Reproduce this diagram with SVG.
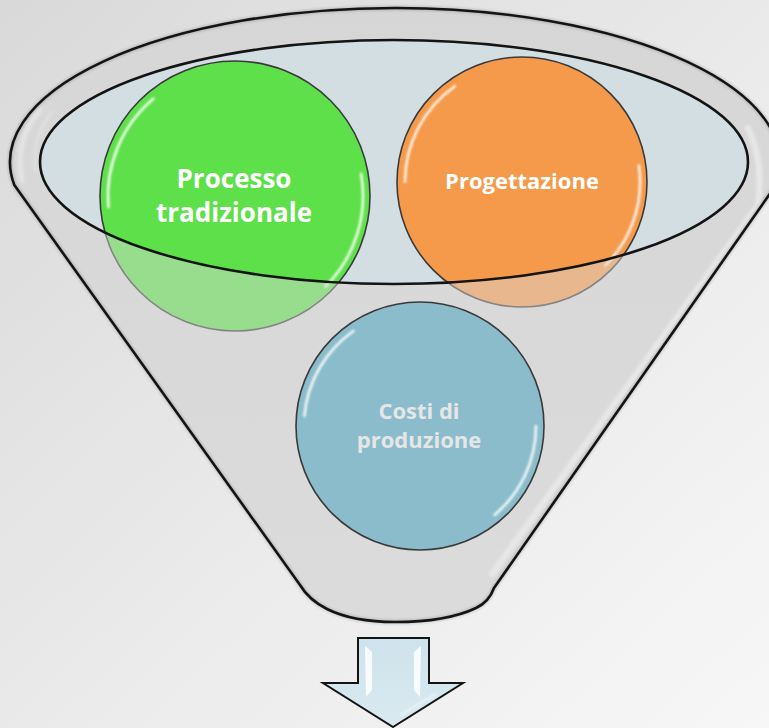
<svg xmlns="http://www.w3.org/2000/svg" width="769" height="728" viewBox="0 0 769 728">
  <defs>
    <linearGradient id="bg" x1="0" y1="0" x2="1" y2="1">
      <stop offset="0" stop-color="#d9d9d9"/>
      <stop offset="0.55" stop-color="#ebebeb"/>
      <stop offset="1" stop-color="#f7f7f7"/>
    </linearGradient>
    <linearGradient id="body" x1="0" y1="0" x2="0" y2="1">
      <stop offset="0" stop-color="#d4d4d4"/>
      <stop offset="1" stop-color="#dedede"/>
    </linearGradient>
    <linearGradient id="arrowFill" x1="0" y1="0" x2="0" y2="1">
      <stop offset="0" stop-color="#cfe3ec"/>
      <stop offset="1" stop-color="#d9e9f0"/>
    </linearGradient>
    <filter id="soft" x="-10%" y="-10%" width="120%" height="120%">
      <feGaussianBlur stdDeviation="0.8"/>
    </filter>
    <filter id="glow" x="-20%" y="-20%" width="140%" height="140%">
      <feGaussianBlur stdDeviation="1.6"/>
    </filter>
  </defs>
  <style>
    .edge { fill: none; stroke: #141414; stroke-width: 2.6; stroke-linejoin: round; }
    .edge-shadow { fill: none; stroke: #000000; stroke-width: 4; opacity: 0.18; }
    .ball { stroke: #3a3a3a; stroke-width: 1.6; }
    .shine { fill: none; stroke: #ffffff; stroke-width: 2.6; stroke-linecap: round; opacity: 0.9; }
    .label { font-family: "Open Sans", "Liberation Sans", sans-serif; font-weight: 700; text-anchor: middle; }
  </style>

  <!-- background -->
  <rect width="769" height="728" fill="url(#bg)"/>

  <!-- funnel body and opening -->
  <g id="funnel">
    <path id="funnel-shape" d="M 14.3,185 A 385 154 0 1 1 775.3,186 L 494,588 Q 489,602 476,608 C 455,618 425,622 395,622 C 368,622 345,618 327,609 Q 309,600 300,585 Z" fill="url(#body)"/>
    <!-- glossy rim highlights -->
    <path d="M 40,110 Q 14,140 22,180" fill="none" stroke="#f4f4f4" stroke-width="5" stroke-linecap="round" opacity="0.8" filter="url(#glow)"/>
    <path d="M 52,112 Q 30,140 36,172" fill="none" stroke="#ededed" stroke-width="3" stroke-linecap="round" opacity="0.7" filter="url(#glow)"/>
    <path d="M 748,128 Q 764,160 758,205 L 492,574" fill="none" stroke="#f8f8f8" stroke-width="6" stroke-linecap="round" opacity="0.9" filter="url(#glow)"/>
    <ellipse id="opening" cx="394" cy="162" rx="354" ry="122" fill="#d3dee3"/>
  </g>

  <!-- upper nodes, resting in the opening -->
  <g id="node-processo">
    <circle cx="235" cy="196" r="135" fill="#5ee04a" class="ball"/>
    <path class="shine" d="M 108.5,207.1 A 127 127 0 0 1 153.4,98.7" filter="url(#soft)"/>
    <path class="shine" d="M 361.1,173.8 A 128 128 0 0 1 325.5,286.5" filter="url(#soft)"/>
    <text class="label" x="234" y="188" font-size="26" fill="#ffffff">Processo</text>
    <text class="label" x="234" y="222" font-size="26" fill="#ffffff">tradizionale</text>
  </g>
  <g id="node-progettazione">
    <circle cx="522" cy="182" r="125" fill="#f5994a" class="ball"/>
    <path class="shine" d="M 405,182 A 117 117 0 0 1 454.9,86.2" filter="url(#soft)"/>
    <path class="shine" d="M 638.9,165.6 A 118 118 0 0 1 605.4,265.4" filter="url(#soft)"/>
    <text class="label" x="522" y="189" font-size="22" fill="#ffffff">Progettazione</text>
  </g>

  <!-- front wall of the funnel, seen through -->
  <path d="M 14.3,185 A 385 154 0 1 1 775.3,186 L 494,588 Q 489,602 476,608 C 455,618 425,622 395,622 C 368,622 345,618 327,609 Q 309,600 300,585 Z M 40,162 A 354 122 0 1 0 748,162 A 354 122 0 1 0 40,162 Z" fill="#d8d8d8" fill-rule="evenodd" opacity="0.47"/>

  <!-- outlines -->
  <g id="funnel-outline">
    <path class="edge-shadow" filter="url(#glow)" d="M 14.3,185 A 385 154 0 1 1 775.3,186 L 494,588 Q 489,602 476,608 C 455,618 425,622 395,622 C 368,622 345,618 327,609 Q 309,600 300,585 Z"/>
    <path class="edge" d="M 14.3,185 A 385 154 0 1 1 775.3,186 L 494,588 Q 489,602 476,608 C 455,618 425,622 395,622 C 368,622 345,618 327,609 Q 309,600 300,585 Z"/>
    <ellipse class="edge" cx="394" cy="162" rx="354" ry="122"/>
  </g>

  <!-- lower node -->
  <g id="node-costi">
    <circle cx="420" cy="426" r="124" fill="#8abccb" class="ball"/>
    <path class="shine" d="M 304.4,415.9 A 116 116 0 0 1 353.5,331" filter="url(#soft)" opacity="0.7"/>
    <path class="shine" d="M 536,426 A 116 116 0 0 1 494.6,514.9" filter="url(#soft)" opacity="0.7"/>
    <text class="label" x="419" y="419" font-size="22" fill="#e6e6e6">Costi di</text>
    <text class="label" x="419" y="448" font-size="22" fill="#e6e6e6">produzione</text>
  </g>

  <!-- output arrow -->
  <g id="connectors">
    <path d="M 358,638 H 429 V 683 H 463 L 393,727 L 323,683 H 358 Z" fill="url(#arrowFill)" stroke="#141414" stroke-width="2" stroke-linejoin="miter"/>
    <path d="M 365,646 L 372,652 L 372,690 L 366,697 Z" fill="#ffffff" opacity="0.85"/>
    <path d="M 421,646 L 414,652 L 414,690 L 420,697 Z" fill="#ffffff" opacity="0.85"/>
    <path d="M 400,715 L 436,694" stroke="#ffffff" stroke-width="2" opacity="0.6" filter="url(#soft)"/>
  </g>
</svg>
